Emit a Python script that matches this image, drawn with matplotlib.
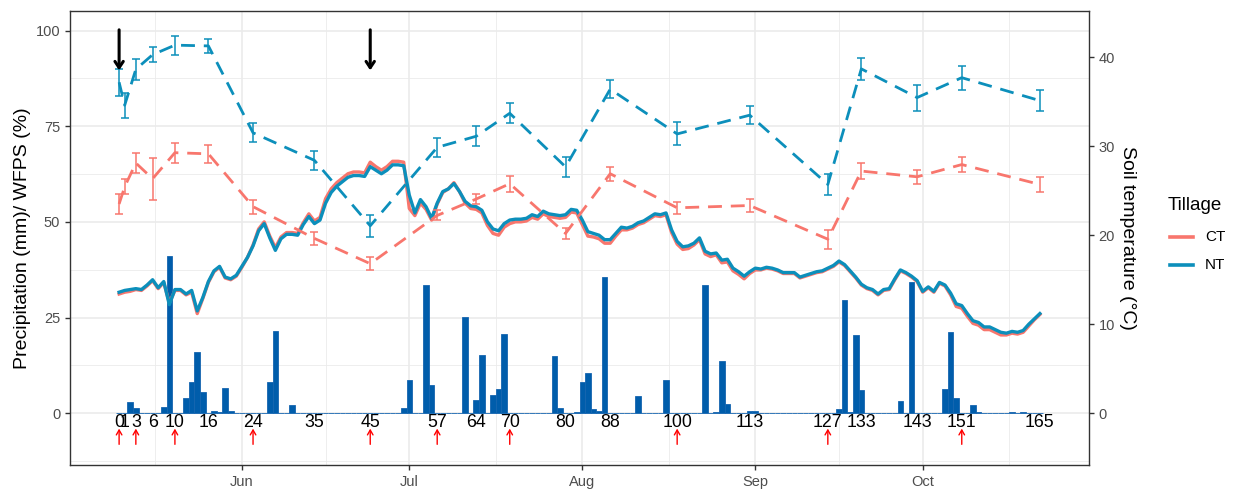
import numpy as np
import matplotlib
matplotlib.use("Agg")
import matplotlib.pyplot as plt
import matplotlib.dates as mdates
from matplotlib.lines import Line2D

plt.rcParams['font.family'] = ['Liberation Sans', 'DejaVu Sans']

# ---------------- data ----------------
start_date = np.datetime64('2019-05-10')

# daily precipitation (mm), days 0..165
precip_days = [2, 3, 8, 9, 12, 13, 14, 15, 17, 18, 19, 20, 27, 28, 31,
               51, 52, 55, 56, 62, 64, 65, 67, 68, 69, 78, 79,
               82, 83, 84, 85, 86, 87, 93, 98, 105, 107, 108, 109, 110,
               113, 114, 129, 130, 131, 132, 133, 140, 142, 148, 149, 150,
               153, 154, 160, 162]
precip_mm = [3.0, 1.4, 1.6, 41.1, 4.1, 8.3, 16.1, 5.6, 0.7, 0.4, 6.7, 0.7, 8.3, 21.5, 2.3,
             1.3, 8.7, 33.5, 7.4, 25.1, 3.5, 15.2, 4.9, 6.4, 20.7, 15.0, 1.5,
             0.3, 8.1, 10.5, 1.2, 0.6, 35.5, 4.5, 8.7, 33.4, 0.4, 13.7, 2.4, 0.2,
             0.5, 0.5, 1.1, 29.5, 0.3, 20.5, 6.1, 3.3, 34.2, 6.4, 21.2, 4.0,
             2.1, 0.3, 0.3, 0.3]

# daily soil temperature (deg C), days 0..165
temp_nt = [13.6, 13.8, 13.9, 14.0, 13.9, 14.4, 15.0, 14.1, 14.8, 12.2,
           13.9, 13.9, 13.4, 13.8, 11.5, 13.0, 14.8, 16.0, 16.5, 15.3,
           15.1, 15.5, 16.5, 17.5, 18.8, 20.5, 21.3, 19.7, 18.3, 19.6,
           20.1, 20.1, 20.0, 21.2, 22.1, 21.3, 21.7, 23.6, 24.8, 25.5,
           26.0, 26.5, 26.7, 26.7, 26.6, 27.7, 27.3, 26.9, 27.3, 27.9,
           27.9, 27.8, 24.5, 22.5, 24.0, 23.2, 21.9, 23.6, 24.9, 25.2,
           25.8, 24.9, 23.8, 23.3, 23.2, 22.8, 21.5, 20.7, 20.5, 21.3,
           21.7, 21.8, 21.8, 21.9, 22.3, 22.1, 22.7, 22.4, 22.3, 22.2,
           22.3, 22.9, 22.8, 21.7, 20.4, 20.2, 20.0, 19.5, 19.5, 20.2,
           20.9, 20.8, 21.0, 21.4, 21.6, 22.0, 22.4, 22.3, 22.5, 20.6,
           19.3, 18.7, 18.8, 19.1, 19.7, 18.2, 17.9, 18.0, 17.2, 17.3,
           16.3, 15.9, 15.4, 15.9, 16.3, 16.2, 16.4, 16.3, 16.1, 15.8,
           15.8, 15.8, 15.3, 15.5, 15.7, 15.9, 16.0, 16.3, 16.6, 17.1,
           16.7, 16.0, 15.3, 14.5, 14.1, 13.9, 13.4, 13.9, 14.0, 15.1,
           16.1, 15.8, 15.4, 14.9, 13.7, 14.2, 13.7, 14.7, 14.4, 13.5,
           12.3, 12.1, 11.2, 10.4, 10.2, 9.7, 9.7, 9.4, 9.1, 9.0,
           9.2, 9.1, 9.3, 10.0, 10.6, 11.2]
temp_ct = [13.4, 13.6, 13.7, 13.9, 13.8, 14.3, 14.9, 14.0, 14.7, 12.4,
           13.8, 13.8, 13.3, 13.6, 11.2, 12.9, 14.7, 15.9, 16.4, 15.2,
           15.0, 15.4, 16.4, 17.5, 18.9, 20.7, 21.5, 19.9, 18.6, 19.8,
           20.3, 20.3, 20.2, 21.4, 22.4, 21.6, 22.0, 24.1, 25.2, 25.9,
           26.4, 26.9, 27.1, 27.1, 27.0, 28.2, 27.7, 27.3, 27.7, 28.3,
           28.3, 28.2, 23.0, 22.2, 23.6, 22.9, 21.7, 23.5, 24.8, 25.2,
           25.9, 24.9, 23.6, 23.0, 22.9, 22.5, 21.1, 20.2, 20.0, 20.9,
           21.3, 21.5, 21.5, 21.6, 22.0, 21.8, 22.4, 22.1, 22.0, 21.9,
           22.0, 22.6, 22.5, 21.2, 19.9, 19.8, 19.6, 19.1, 19.1, 19.9,
           20.6, 20.6, 20.8, 21.2, 21.4, 21.8, 22.2, 22.1, 22.3, 20.3,
           19.0, 18.4, 18.5, 18.9, 19.5, 17.9, 17.6, 17.8, 16.9, 17.0,
           16.0, 15.6, 15.1, 15.7, 16.1, 16.1, 16.3, 16.2, 16.0, 15.7,
           15.7, 15.7, 15.2, 15.4, 15.6, 15.8, 15.9, 16.2, 16.5, 17.0,
           16.6, 15.9, 15.2, 14.4, 14.0, 13.8, 13.3, 13.8, 13.9, 15.0,
           16.0, 15.7, 15.3, 14.8, 13.6, 14.1, 13.6, 14.6, 14.3, 13.3,
           12.0, 11.8, 10.9, 10.1, 9.9, 9.4, 9.4, 9.1, 8.8, 8.8,
           9.0, 8.9, 9.1, 9.8, 10.5, 11.1]

# WFPS (%) at sampling days, mean and error
wfps_days = [0, 1, 3, 6, 10, 16, 24, 35, 45, 57, 64, 70, 80, 88, 100, 113, 127, 133, 143, 151, 165]
wfps_nt = [86.5, 80.5, 89.9, 93.7, 96.2, 96.0, 73.3, 66.1, 49.0, 69.5, 72.4, 78.4,
           64.4, 84.7, 73.0, 77.9, 59.8, 90.0, 82.5, 87.7, 81.7]
wfps_nt_err = [3.5, 3.3, 2.7, 2.0, 2.5, 1.8, 2.5, 2.5, 2.9, 2.4, 2.6, 2.6,
               2.7, 2.3, 3.0, 2.3, 2.8, 2.8, 3.4, 3.1, 2.7]
wfps_ct = [54.7, 59.2, 65.4, 61.3, 68.1, 67.8, 54.0, 45.7, 39.1, 51.7, 56.0, 60.0,
           47.0, 62.6, 53.7, 54.3, 45.5, 63.3, 61.8, 65.0, 59.8]
wfps_ct_err = [2.5, 2.0, 2.6, 5.5, 2.6, 2.4, 1.8, 1.7, 1.7, 1.3, 1.3, 2.1,
               1.5, 1.8, 1.6, 1.6, 2.5, 2.0, 1.8, 1.9, 1.9]

# event labels and markers
label_days = [0, 1, 3, 6, 10, 16, 24, 35, 45, 57, 64, 70, 80, 88, 100, 113, 127, 133, 143, 151, 165]
red_arrow_days = [0, 3, 10, 24, 45, 57, 70, 100, 127, 151]
black_arrow_days = [0, 45]

month_starts = ['2019-05-01', '2019-06-01', '2019-07-01', '2019-08-01',
                '2019-09-01', '2019-10-01', '2019-11-01']
month_labels = ['Jun', 'Jul', 'Aug', 'Sep', 'Oct']

tillage = ['CT', 'NT']
colors = {'CT': '#F8766D', 'NT': '#0C8FBB'}
bar_color = '#005DAB'

temp_scale = 2.327  # left-axis units per deg C

# ---------------- figure ----------------
W, H = 1233, 490
fig = plt.figure(figsize=(W / 100, H / 100), dpi=100)
ax = fig.add_axes([70 / W, 1 - 465 / H, (1089 - 70) / W, (465 - 10.7) / H])

base = mdates.date2num(start_date)


def to_num(d):
    return base + np.asarray(d, dtype=float)


all_days = np.arange(0, 166)
precip_full = np.zeros(len(all_days))
precip_full[precip_days] = precip_mm

ax.set_xlim(to_num(-8.8), to_num(173.8))
ax.set_ylim(-13.5, 105.2)

# grid
ms = mdates.date2num(np.array(month_starts, dtype='datetime64[D]'))
minor_x = (ms[:-1] + ms[1:]) / 2
for v in minor_x:
    ax.axvline(v, color='#EBEBEB', lw=0.6, zorder=0)
for v in ms[1:-1]:
    ax.axvline(v, color='#EBEBEB', lw=1.2, zorder=0)
for v in [-12.5, 12.5, 37.5, 62.5, 87.5]:
    ax.axhline(v, color='#EBEBEB', lw=0.6, zorder=0)
for v in [0, 25, 50, 75, 100]:
    ax.axhline(v, color='#EBEBEB', lw=1.2, zorder=0)

# precipitation bars
ax.bar(to_num(all_days), precip_full, width=1.0, color=bar_color,
       edgecolor='#1565B0', linewidth=0.6, zorder=2)

# soil temperature (scaled onto left axis)
ax.plot(to_num(all_days), np.array(temp_ct) * temp_scale, color=colors['CT'],
        lw=2.4, zorder=3, solid_joinstyle='round')
ax.plot(to_num(all_days), np.array(temp_nt) * temp_scale, color=colors['NT'],
        lw=2.4, zorder=3.1, solid_joinstyle='round')

# WFPS
for name, vals, errs in [('CT', wfps_ct, wfps_ct_err), ('NT', wfps_nt, wfps_nt_err)]:
    ax.plot(to_num(wfps_days), vals, color=colors[name], lw=2.0,
            dashes=(5, 3.2), zorder=4)
    ax.errorbar(to_num(wfps_days), vals, yerr=errs, fmt='none',
                ecolor=colors[name], elinewidth=1.1, capsize=3, capthick=1.1, zorder=4)

# day labels
for d in label_days:
    ax.text(to_num(d), -2.5, str(d), ha='center', va='center',
            fontsize=12.8, color='black', zorder=6)

# red arrows
for d in red_arrow_days:
    xd = to_num(d)
    ax.annotate('', xy=(xd, -4.0), xytext=(xd, -8.1),
                arrowprops=dict(arrowstyle='->,head_length=0.35,head_width=0.2',
                                color='red', lw=1.0, shrinkA=0, shrinkB=0), zorder=6)

# black arrows
for d in black_arrow_days:
    xd = to_num(d)
    ax.annotate('', xy=(xd, 89.6), xytext=(xd, 100.2),
                arrowprops=dict(arrowstyle='->,head_length=0.45,head_width=0.3',
                                color='black', lw=2.2, shrinkA=0, shrinkB=0), zorder=7)

# axes styling
ax.set_yticks([0, 25, 50, 75, 100])
ax.set_xticks(ms[1:-1])
ax.set_xticklabels(month_labels)
ax.tick_params(axis='both', colors='#333333', labelcolor='#4D4D4D', labelsize=10.5,
               length=3.5, width=1.0)
for s in ax.spines.values():
    s.set_color('#333333')
    s.set_linewidth(1.0)
ax.set_ylabel('Precipitation (mm)/ WFPS (%)', fontsize=14, color='black', labelpad=3)

ax2 = ax.twinx()
ax2.set_ylim(-13.5 / temp_scale, 105.2 / temp_scale)
ax2.set_yticks([0, 10, 20, 30, 40])
ax2.tick_params(axis='y', colors='#333333', labelcolor='#4D4D4D', labelsize=10.5,
                length=3.5, width=1.0)
for s in ax2.spines.values():
    s.set_visible(False)
ax2.set_ylabel('Soil temperature (°C)', fontsize=14, color='black', rotation=270,
               labelpad=15)

# legend, laid out in pixel positions of the figure
fig.text(1168 / W, 1 - 205 / H, 'Tillage', fontsize=13.5, ha='left', va='center')
for i, t in enumerate(tillage):
    yk = 1 - (237 + 28 * i) / H
    fig.add_artist(Line2D([1170 / W, 1193 / W], [yk, yk], color=colors[t], lw=2.6,
                          transform=fig.transFigure))
    fig.text(1205 / W, yk, t, fontsize=11, ha='left', va='center')

fig.savefig('out.png', dpi=100)
